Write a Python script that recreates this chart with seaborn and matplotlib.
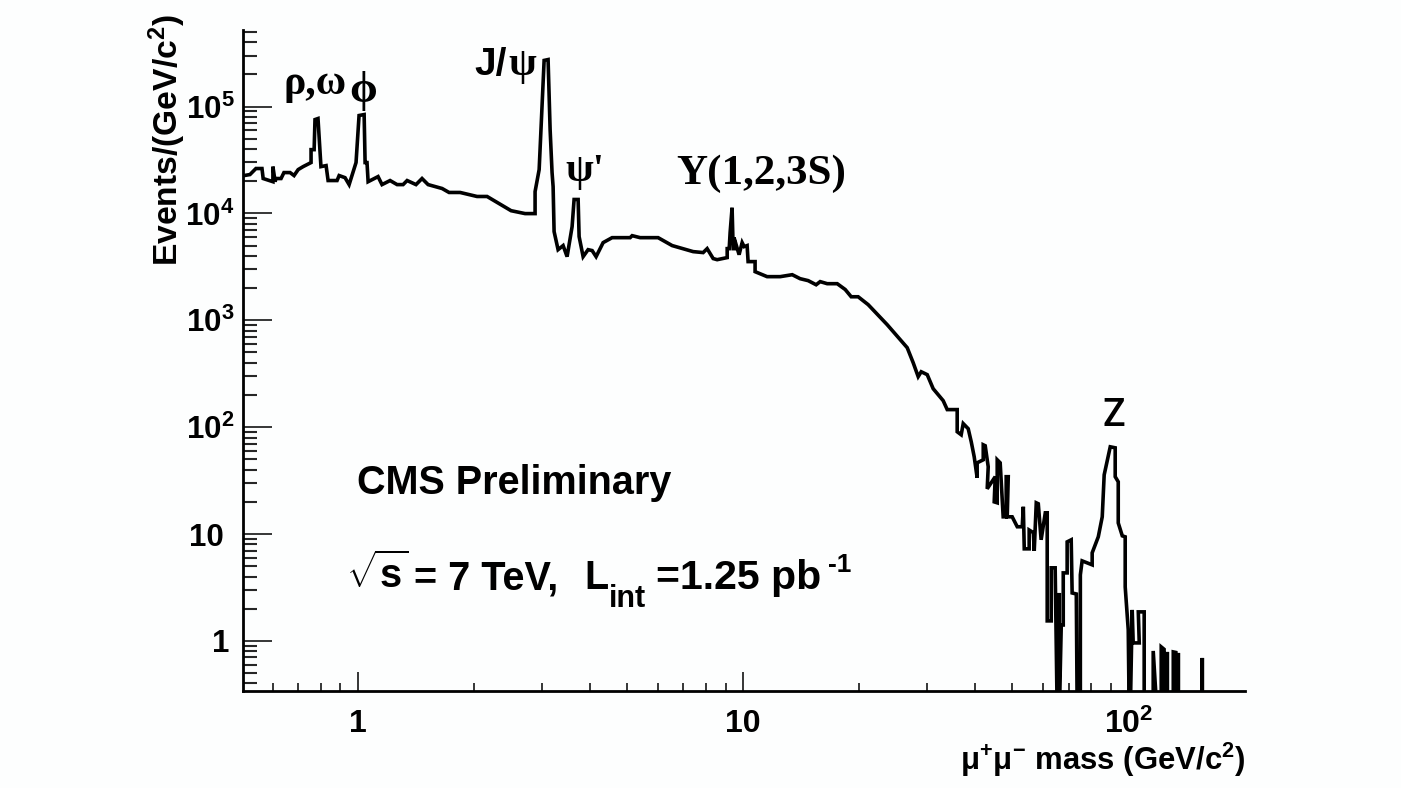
import matplotlib
matplotlib.use("Agg")
import matplotlib.pyplot as plt
import matplotlib.transforms as mtrans
import pandas as pd
import seaborn as sns
from matplotlib.ticker import FixedLocator, NullFormatter

# dimuon spectrum (path order, not sorted)
FLOOR = 0.2  # bins with no entries, falls below the axis

mass_low = [0.506, 0.524, 0.543, 0.563, 0.567, 0.601, 0.601, 0.609, 0.612, 0.631, 0.642, 0.666,
            0.682, 0.699, 0.720, 0.755, 0.755, 0.769, 0.773, 0.787, 0.801, 0.826, 0.836, 0.882,
            0.893, 0.925, 0.948, 0.988, 1.006, 1.037, 1.043, 1.055, 1.062, 1.127, 1.154, 1.211,
            1.263, 1.309, 1.341, 1.414, 1.466, 1.520, 1.653, 1.723, 1.841, 2.037, 2.163, 2.497,
            2.715, 2.882, 2.882, 2.953, 3.042, 3.115, 3.153, 3.190, 3.210, 3.229, 3.307, 3.408,
            3.490, 3.596, 3.639, 3.728, 3.750, 3.841, 3.957, 4.054, 4.151, 4.329, 4.568, 5.088,
            5.150, 5.401, 6.014, 6.541, 7.416, 7.873, 8.063, 8.359, 8.56, 9.09, 9.09, 9.20, 9.25,
            9.36, 9.42, 9.53, 9.47, 9.76, 9.94, 10.06, 10.24, 10.30, 10.74, 10.74, 11.54, 12.48]
events_low = [22600, 23100, 26300, 26300, 21200, 19800, 27400, 19800, 21200, 21200, 24100, 24100,
              22600, 25700, 27400, 29900, 39500, 39500, 75500, 77200, 27400, 28000, 20300, 20300,
              22600, 21600, 18600, 29900, 82400, 84100, 29900, 29900, 19800, 22100, 18600, 20300,
              18600, 18600, 20300, 18600, 21200, 18600, 17100, 15700, 15700, 14400, 14400, 10600,
              9960, 9960, 16000, 25700, 270000, 275000, 61000, 24100, 17800, 6760, 4580, 5000,
              3940, 7520, 13500, 13500, 6070, 3940, 4580, 4490, 3940, 5330, 5930, 5930,
              6190, 5930, 5930, 5000, 4390, 4300, 4680, 3780, 3690, 3860, 4680, 4680, 6610,
              11300, 4680, 4680, 5930, 4110, 5330, 4890, 5000, 3540, 3540, 2850, 2560, 2560]

mass_mid = [13.41, 14.06, 14.75, 15.47, 15.85, 16.53, 17.55, 18.41, 19.08, 19.89, 21.12, 23.66,
            26.67, 27.64, 28.48, 29.0, 30.06, 31.15, 33.07,
            33.88, 35.96, 35.96, 36.83, 37.28, 38.41, 39.11, 39.81, 40.52, 40.52,
            42.02, 42.02, 42.52, 43.29, 43.03, 45.14, 44.87, 45.68, 45.68, 46.5,
            47.34, 48.2, 48.2, 48.8, 48.5, 49.96, 51.5, 53.05, 53.4, 53.7,
            55.3, 55.3, 56.7, 57.0, 57.7, 58.4, 59.4, 60.9, 61.6]
events_mid = [2670, 2450, 2350, 2150, 2300, 2200, 2200, 1940, 1660, 1660, 1400, 910,
              554, 401, 297, 330, 310, 229, 177,
              146, 146, 90.6, 84.9, 108, 96.7, 73, 52.8, 33.6, 46.4,
              49.5, 68.4, 67, 42.6, 26.5, 34.4, 20, 19.6, 49.5, 46.4,
              14.5, 14.5, 34.4, 34.4, 14.5, 14.5, 11.7, 11.7, 18, 7.27,
              7.27, 10.9, 10.3, 6.96, 19.6, 19.2, 8.83, 15.8, 15.8]

mass_high = [61.6, 63.1, 63.1, 64.6, 65.4, 66.2, 66.2, 67.0, 67.8, 67.8,
             69.4, 69.4, 71.1, 71.5, 73.3, 73.7, 75.1, 75.1, 75.9, 80.6,
             80.6, 83.6, 85.6, 86.6, 89.8, 92.5, 92.5, 94.2, 94.2, 96.5,
             98.2, 98.2, 100, 100.6, 101.2, 102.4, 103.0, 106.8, 106.2, 110.0,
             110.0, 116.1, 116.1, 118.9, 121.8, 121.8, 123.9, 123.9, 126.3, 126.3,
             126.3, 130.9, 130.9, 132.9, 132.9, 134.9, 134.9, 134.9, 155.7, 155.7, 155.7]
events_high = [1.54, 1.54, 4.83, 4.83, FLOOR, 2.81, FLOOR, 1.41, 1.41, 4.33,
               4.33, 8.45, 8.83, 2.81, 2.75, FLOOR, FLOOR, 4.15, 5.61, 5.15,
               6.67, 9.42, 14.5, 35.8, 65.5, 64.1, 34.4, 30.8, 12.7, 9.62,
               9.42, 3.2, 1.27, FLOOR, FLOOR, 1.95, 0.958, 0.958, 1.87, 1.87,
               FLOOR, FLOOR, 0.806, FLOOR, FLOOR, 0.879, 0.835, FLOOR, FLOOR, 0.789,
               FLOOR, FLOOR, 0.789, 0.78, FLOOR, FLOOR, 0.772, FLOOR, FLOOR, 0.693, FLOOR]

x_major = [1, 10, 100]
x_minor = [0.6, 0.7, 0.8, 0.9, 2, 3, 4, 5, 6, 7, 8, 9, 20, 30, 40, 50, 60, 70, 80, 90]
y_major = [1, 10, 100, 1000, 10000, 100000]
y_minor = [m * d for d in [0.1, 1, 10, 100, 1000, 10000, 100000] for m in range(2, 10)]
x_tick_labels = ["1", "10", r"10$^{\mathbf{2}}$"]
y_tick_labels = ["1", "10", r"10$^{\mathbf{2}}$", r"10$^{\mathbf{3}}$", r"10$^{\mathbf{4}}$", r"10$^{\mathbf{5}}$"]

W, H = 1401, 788
BG = "#fdfefe"

sns.set_theme(style="ticks")
plt.rcParams["font.family"] = ["Liberation Sans", "DejaVu Sans"]
plt.rcParams["mathtext.fontset"] = "custom"
plt.rcParams["mathtext.rm"] = "Liberation Sans:bold"
plt.rcParams["mathtext.bf"] = "Liberation Sans:bold"
plt.rcParams["mathtext.default"] = "bf"


def label(px, py, text, **kw):
    # placed by picture position, baseline left by default
    kw.setdefault("fontweight", "bold")
    kw.setdefault("color", "black")
    fig.text(px / W, 1 - py / H, text, **kw)


df = pd.DataFrame({"mass": mass_low + mass_mid + mass_high,
                   "events": events_low + events_mid + events_high})

fig = plt.figure(figsize=(W / 100, H / 100), dpi=100, facecolor=BG)
ax = fig.add_axes([243 / W, 1 - 691 / H, 1002 / W, 661 / H], facecolor=BG)

sns.lineplot(data=df, x="mass", y="events", sort=False, estimator=None, errorbar=None,
             color="black", linewidth=2.6, ax=ax, solid_joinstyle="miter")

ax.set_xscale("log")
ax.set_yscale("log")
ax.set_xlim(0.5026, 201)
ax.set_ylim(0.34, 5.2e5)
ax.xaxis.set_major_locator(FixedLocator(x_major))
ax.xaxis.set_minor_locator(FixedLocator(x_minor))
ax.yaxis.set_major_locator(FixedLocator(y_major))
ax.yaxis.set_minor_locator(FixedLocator([v for v in y_minor if 0.34 < v < 5.2e5]))
ax.set_xticklabels(x_tick_labels)
ax.set_yticklabels(y_tick_labels)
ax.xaxis.set_minor_formatter(NullFormatter())
ax.yaxis.set_minor_formatter(NullFormatter())
ax.tick_params(axis="x", which="major", direction="in", length=14, width=1.3, pad=13, labelsize=23)
ax.tick_params(axis="x", which="minor", direction="in", length=5.5, width=1.3)
ax.tick_params(axis="y", which="major", direction="in", length=21, width=1.3, pad=6, labelsize=22.5)
ax.tick_params(axis="y", which="minor", direction="in", length=10, width=1.5)
for lab in ax.get_xticklabels() + ax.get_yticklabels():
    lab.set_fontweight("bold")
    lab.set_color("black")
# the plain labels sit further left than the powers of ten
ylabs = ax.get_yticklabels()
for lab, dx in [(ylabs[0], -5), (ylabs[1], -11)]:
    lab.set_transform(lab.get_transform() + mtrans.ScaledTranslation(dx / 100, 0, fig.dpi_scale_trans))
sns.despine(ax=ax)
for side in ["left", "bottom"]:
    ax.spines[side].set_linewidth(2)
    ax.spines[side].set_color("black")
ax.set_xlabel("")
ax.set_ylabel("")

label(1245, 770, "\u03bc$^{+}$\u03bc$^{-}$ mass (GeV/c$^{2}$)", fontsize=22.4, ha="right")
label(147, 266, "Events/(GeV/c$^{2}$)", fontsize=24.2, rotation=90, va="bottom", ha="left")

serif = ["Liberation Serif", "DejaVu Serif"]
label(283, 94, "\u03c1,\u03c9", fontsize=30, family=serif)
label(349, 102, "\u03d5", fontsize=32, family=serif)
label(474, 75, "J/", fontsize=28)
label(508, 75, "\u03c8", fontsize=29, family=serif)
label(565, 181, "\u03c8'", fontsize=29, family=serif)
label(676, 184, "Y(1,2,3S)", fontsize=31, family=serif)
label(1103, 426, "Z", fontsize=27, fontweight=500, family=["Roboto", "Liberation Sans"])

label(357, 494, "CMS Preliminary", fontsize=28.5)
label(346, 588, r"$\sqrt{\mathbf{s}}$", fontsize=28.5)
label(414, 589, "= 7 TeV,", fontsize=28.5)
label(584, 589, "L", fontsize=28.5)
label(609, 607, "int", fontsize=22)
label(656, 589, "=1.25 pb", fontsize=29.5)
label(828, 572, "-1", fontsize=19)

fig.savefig("out.png", dpi=100, facecolor=BG)
plt.close(fig)
